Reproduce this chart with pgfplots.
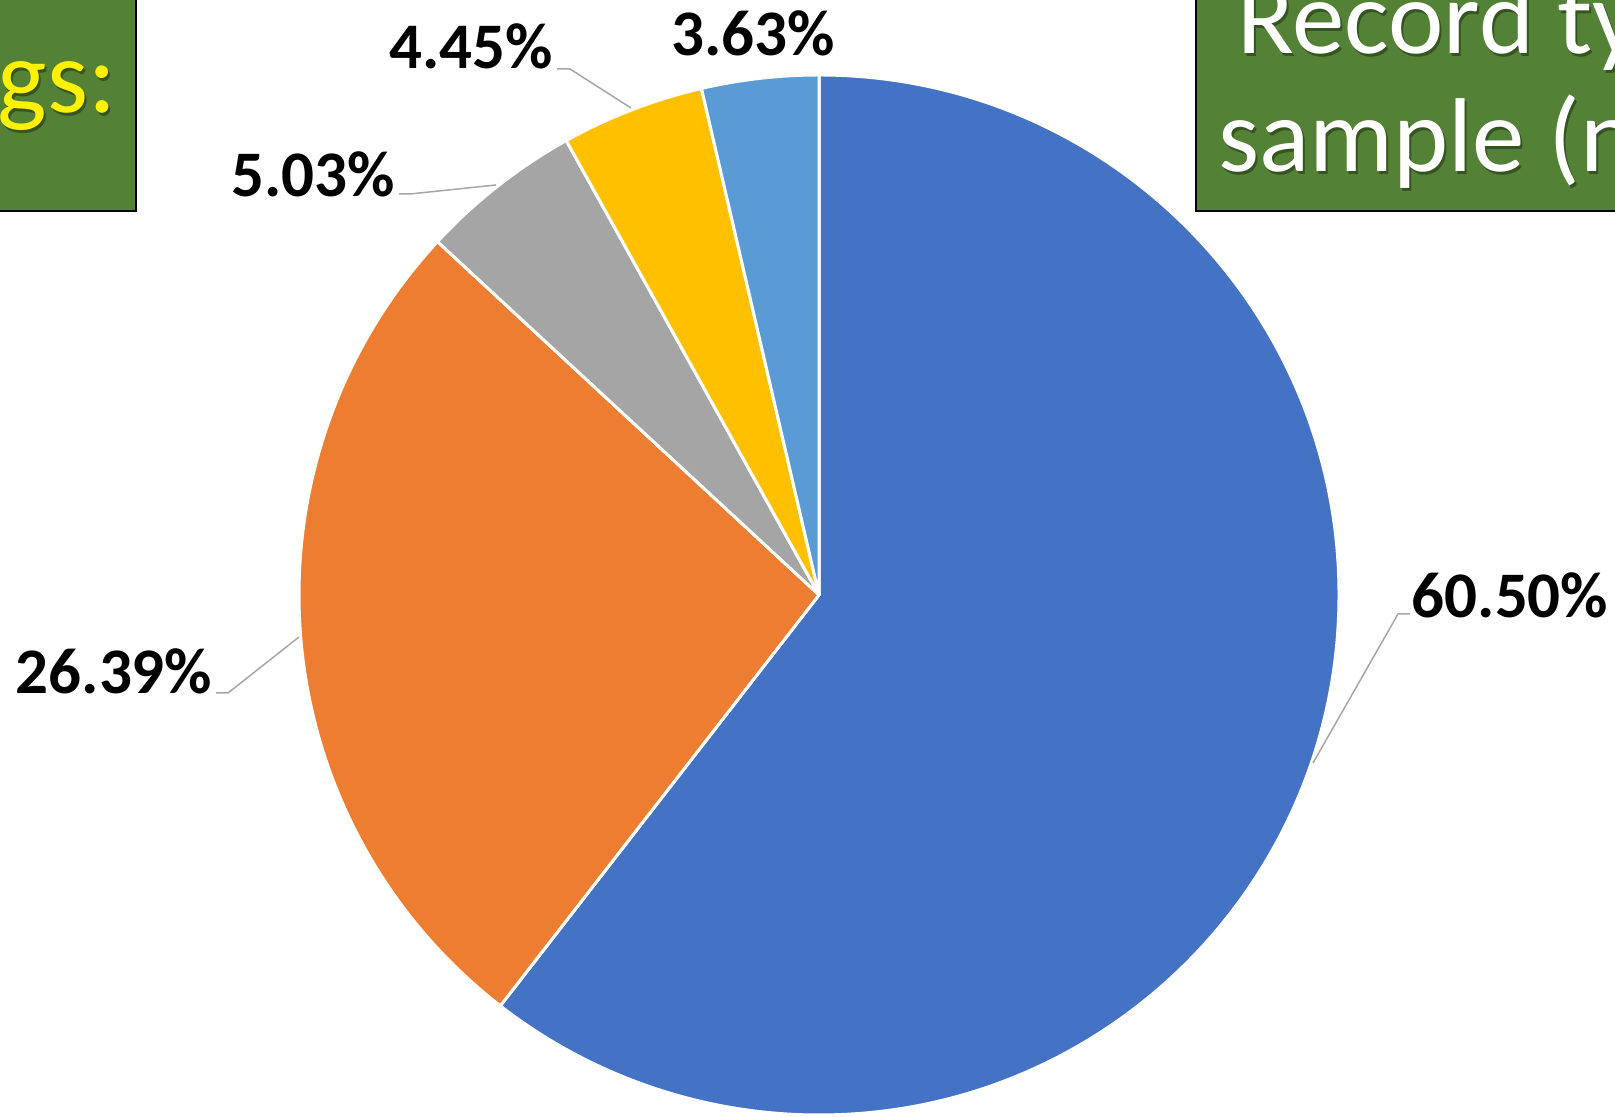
\documentclass[border=0pt]{standalone}
\usepackage{fontspec}
\setmainfont{Carlito}
\usepackage{pgfplots}
\usepackage{pgfplotstable}
\pgfplotsset{compat=1.18}

\definecolor{pieblue}{HTML}{4472C4}
\definecolor{pieorange}{HTML}{ED7D31}
\definecolor{piegray}{HTML}{A5A5A5}
\definecolor{pieyellow}{HTML}{FFC000}
\definecolor{pielightblue}{HTML}{5B9BD5}
\definecolor{boxgreen}{HTML}{538135}
\definecolor{leader}{HTML}{A6A6A6}

% shares in percent, clockwise from 12 o'clock
\pgfplotstableread{
share color
60.50 pieblue
26.39 pieorange
5.03  piegray
4.45  pieyellow
3.63  pielightblue
}\piedata

\newcommand{\lblfont}{\fontsize{32.5}{36}\selectfont\bfseries}
\newcommand{\boxfont}{\fontsize{52.5}{60}\selectfont}

\begin{document}
\begin{tikzpicture}
\begin{axis}[
    x=0.5pt, y=0.5pt,
    xmin=0, xmax=1615, ymin=0, ymax=1117,
    hide axis, clip=true, clip mode=global,
]
    % pie wedges
    \gdef\angstart{90}
    \pgfplotsforeachungrouped \i in {0,...,4}{
        \pgfplotstablegetelem{\i}{share}\of\piedata \let\pieval\pgfplotsretval
        \pgfplotstablegetelem{\i}{color}\of\piedata \let\piecol\pgfplotsretval
        \pgfmathsetmacro\angend{\angstart-3.6*\pieval}
        \edef\temp{\noexpand\fill[\piecol, draw=white, line width=1.5pt, line join=round]
            (axis cs:819,522) -- ++(\angstart:260pt)
            arc[start angle=\angstart, end angle=\angend, radius=260pt] -- cycle;}
        \temp
        \xdef\angstart{\angend}
    }

    % leader lines
    \draw[leader, line width=0.75pt] (axis cs:1313,354) -- (axis cs:1398,503) -- (axis cs:1410,503);
    \draw[leader, line width=0.75pt] (axis cs:299,480) -- (axis cs:228,424) -- (axis cs:216,424);
    \draw[leader, line width=0.75pt] (axis cs:496,932) -- (axis cs:410,923) -- (axis cs:399,923);
    \draw[leader, line width=0.75pt] (axis cs:631,1009) -- (axis cs:570,1048) -- (axis cs:557,1048);

    % data labels
    \node[inner sep=0pt, font=\lblfont] at (axis cs:1510,522) {60.50\%};
    \node[inner sep=0pt, font=\lblfont] at (axis cs:114,446) {26.39\%};
    \node[inner sep=0pt, font=\lblfont] at (axis cs:313,943) {5.03\%};
    \node[inner sep=0pt, font=\lblfont] at (axis cs:471,1071) {4.45\%};
    \node[inner sep=0pt, font=\lblfont] at (axis cs:753,1084) {3.63\%};

    % cropped title boxes
    \filldraw[fill=boxgreen, draw=black, line width=1pt] (axis cs:-10,906) rectangle (axis cs:136,1130);
    \filldraw[fill=boxgreen, draw=black, line width=1pt] (axis cs:1196,906) rectangle (axis cs:1640,1130);

    \node[anchor=base east, inner sep=0pt, font=\boxfont, text=black, opacity=0.35] at (axis cs:119,1001) {Findings:};
    \node[anchor=base east, inner sep=0pt, font=\boxfont, text=yellow] at (axis cs:117,1004) {Findings:};

    \node[anchor=base west, inner sep=0pt, font=\boxfont, text=black, opacity=0.35] at (axis cs:1239,1060) {Record types};
    \node[anchor=base west, inner sep=0pt, font=\boxfont, text=white] at (axis cs:1237,1063) {Record types};
    \node[anchor=base west, inner sep=0pt, font=\boxfont, text=black, opacity=0.35] at (axis cs:1220,942) {sample (n};
    \node[anchor=base west, inner sep=0pt, font=\boxfont, text=white] at (axis cs:1218,945) {sample (n};
\end{axis}
\pgfresetboundingbox
\useasboundingbox (current axis.south west) rectangle (current axis.north east);
\end{tikzpicture}
\end{document}
